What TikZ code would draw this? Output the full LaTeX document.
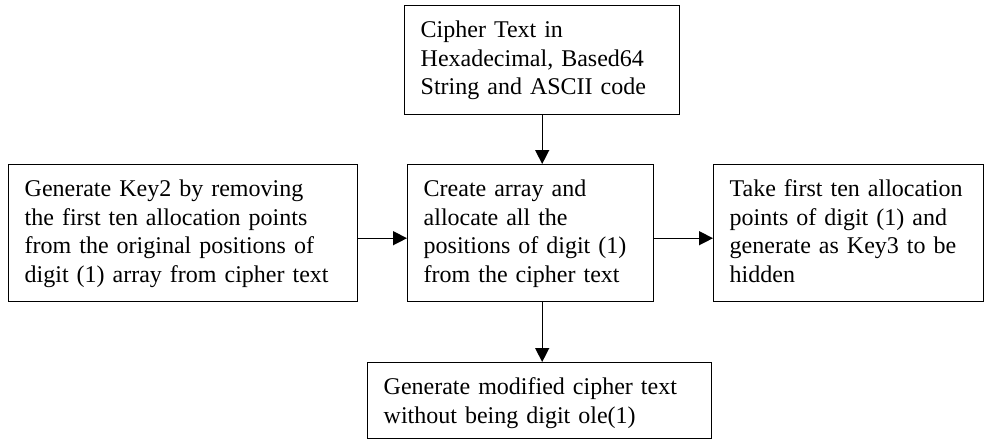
\documentclass[tikz,border=0pt]{standalone}
\usepackage{fontspec}
\setmainfont{Liberation Serif}
\usetikzlibrary{arrows.meta}

\begin{document}
\begin{tikzpicture}[x=1pt, y=1pt,
					every node/.append style={font=\fontsize{12}{14.25}\selectfont},
					stage/.style={draw, line width=0.7pt, anchor=north west, align=left,
						inner xsep=8pt, inner ysep=7pt, text height=9pt},
					flow/.style={-{Triangle[length=7pt,width=7pt]}, line width=0.7pt}]
					\useasboundingbox (0,0) rectangle (493.5,-220);
					\node [stage, text width=121.5pt, text depth=31.5pt] (cipher) at (202,-2.5)
						{Cipher Text in\\Hexadecimal, Based64\\String and ASCII code};
					\node [stage, text width=158.5pt, text depth=45.5pt] (keytwo) at (4,-82)
						{Generate Key2 by removing\\the first ten allocation points\\from the original positions of\\digit (1) array from cipher text};
					\node [stage, text width=107pt, text depth=45.5pt] (arr) at (203.5,-82)
						{Create array and\\allocate all the\\positions of digit (1)\\from the cipher text};
					\node [stage, text width=119pt, text depth=45.5pt] (keythree) at (356.5,-82)
						{Take first ten allocation\\points of digit (1) and\\generate as Key3 to be\\hidden};
					\node [stage, text width=156pt, text depth=15pt] (modified) at (183.5,-181)
						{Generate modified cipher text\\without being digit ole(1)};
					\begin{scope}[flow]
					\draw (cipher.south) -- (cipher.south |- arr.north);
					\draw (arr.south -| cipher.south) -- (modified.north -| cipher.south);
					\draw ([yshift=-2.5pt]keytwo.east) -- ([yshift=-2.5pt]arr.west);
					\draw ([yshift=-2.5pt]arr.east) -- ([yshift=-2.5pt]keythree.west);
					\end{scope}
					\end{tikzpicture}
\end{document}
